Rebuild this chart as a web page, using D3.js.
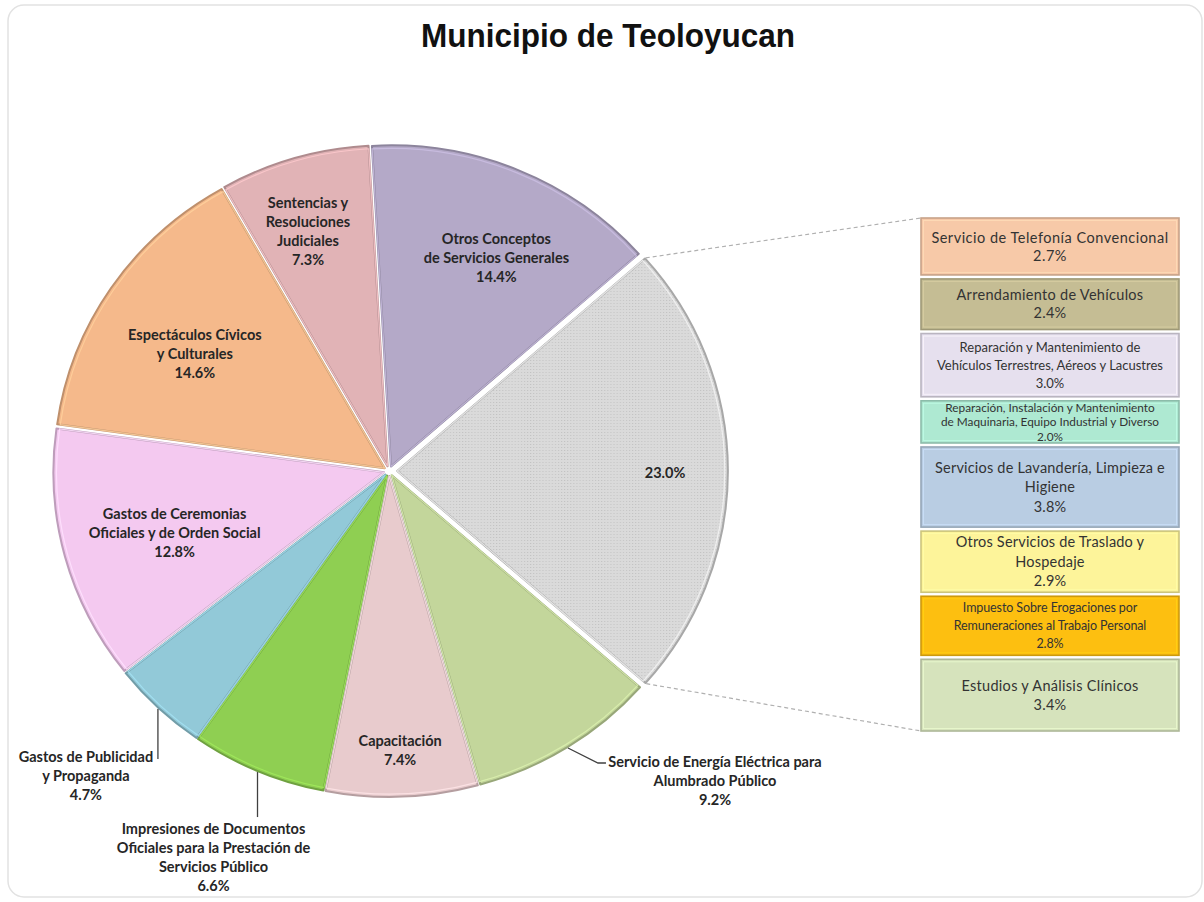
<!DOCTYPE html>
<html><head><meta charset="utf-8">
<script src="https://cdn.jsdelivr.net/npm/d3@7"></script>
<style>body{margin:0;background:#fff;} svg{display:block}</style>
</head><body><svg id="c" width="1204" height="902"></svg>
<script>
// ---------------- DATA ----------------
const title = "Municipio de Teoloyucan";
const categories = [
  "Otros Conceptos de Servicios Generales",
  "Otros (detalle)",
  "Servicio de Energía Eléctrica para Alumbrado Público",
  "Capacitación",
  "Impresiones de Documentos Oficiales para la Prestación de Servicios Público",
  "Gastos de Publicidad y Propaganda",
  "Gastos de Ceremonias Oficiales y de Orden Social",
  "Espectáculos Cívicos y Culturales",
  "Sentencias y Resoluciones Judiciales"
];
const values = [14.4, 23.0, 9.2, 7.4, 6.6, 4.7, 12.8, 14.6, 7.3];
const labelLines = [
  ["Otros Conceptos", "de Servicios  Generales"],
  [],
  ["Servicio de Energía  Eléctrica para", "Alumbrado Público"],
  ["Capacitación"],
  ["Impresiones de Documentos", "Oficiales  para la Prestación de", "Servicios  Público"],
  ["Gastos  de Publicidad", "y Propaganda"],
  ["Gastos  de Ceremonias", "Oficiales  y de Orden Social"],
  ["Espectáculos  Cívicos", "y Culturales"],
  ["Sentencias y", "Resoluciones", "Judiciales"]
];
const detailCategories = [
  "Servicio de Telefonía Convencional",
  "Arrendamiento de Vehículos",
  "Reparación y Mantenimiento de Vehículos Terrestres, Aéreos y Lacustres",
  "Reparación, Instalación y Mantenimiento de Maquinaria, Equipo Industrial y Diverso",
  "Servicios de Lavandería, Limpieza e Higiene",
  "Otros Servicios de Traslado y Hospedaje",
  "Impuesto Sobre Erogaciones por Remuneraciones al Trabajo Personal",
  "Estudios y Análisis Clínicos"
];
const detailValues = [2.7, 2.4, 3.0, 2.0, 3.8, 2.9, 2.8, 3.4];
const detailLines = [
  ["Servicio de Telefonía Convencional"],
  ["Arrendamiento  de  Vehículos"],
  ["Reparación y Mantenimiento de", "Vehículos Terrestres, Aéreos y Lacustres"],
  ["Reparación, Instalación y Mantenimiento", "de Maquinaria, Equipo Industrial y Diverso"],
  ["Servicios de Lavandería, Limpieza e", "Higiene"],
  ["Otros Servicios de Traslado y", "Hospedaje"],
  ["Impuesto Sobre Erogaciones por", "Remuneraciones al Trabajo Personal"],
  ["Estudios y Análisis Clínicos"]
];

// ---------------- STYLE / LAYOUT ----------------
const sliceColors = ["#b4a9c8","#d8d8d8","#c3d69b","#e8cbcd","#8fcf52","#92c9d8","#f4c9f0","#f5b98b","#e1b3b6"];
const detailColors = ["#f7c9a8","#c5bd94","#e6e0ee","#aee9d2","#b9cde3","#fdf49a","#fdbf10","#d6e3bc"];
const cx = 389, cy = 471, R = 321, sx = 1.03;
const startDeg = -3.3;
const explode = [5, 8, 5, 5, 5, 5, 5, 5, 5];
// inside label placement: radius fraction & angle nudge (deg); null = outside label
const labelR = [0.724, 0.81, null, 0.855, null, null, 0.661, 0.676, 0.769];
const labelNudge = [3.5, 0.6, 0, 0, 0, 0, -1.45, -2.3, -1.8];
const font = "Lato, 'Open Sans', sans-serif";
const textColor = "#262626";
const pieFs = 14.5;
// per-box label font size, letter spacing, line height
const boxFs = [14.5, 14.5, 13, 11.8, 14.5, 14.5, 12.5, 14.5];
const boxLs = [0.5, 0.3, 0, 0, 0.2, 0.2, -0.1, 0.3];
const boxLh = [18, 18, 18, 14.5, 19.5, 19.5, 18, 19];

const svg = d3.select("#c");
const defs = svg.append("defs");

// card
svg.append("rect").attr("x", 8).attr("y", 5).attr("width", 1194).attr("height", 892)
  .attr("rx", 16).attr("fill", "#fff").attr("stroke", "#e2e2e2").attr("stroke-width", 1.5);

// title
svg.append("text").attr("x", 608).attr("y", 47).attr("text-anchor", "middle")
  .attr("font-family", "'Liberation Sans', Arial, sans-serif").attr("font-weight", "bold")
  .attr("font-size", 33).attr("fill", "#111")
  .attr("textLength", 374).attr("lengthAdjust", "spacingAndGlyphs").text(title);

// dotted pattern for the detail slice
const pat = defs.append("pattern").attr("id", "dots").attr("patternUnits", "userSpaceOnUse")
  .attr("width", 3).attr("height", 3);
pat.append("rect").attr("width", 3).attr("height", 3).attr("fill", "#dadada");
pat.append("rect").attr("width", 1).attr("height", 1).attr("fill", "#c2c2c2");

const rad = d => d * Math.PI / 180;
const pie = d3.pie().sort(null).value(d => d)
  .startAngle(rad(startDeg)).endAngle(rad(startDeg) + 2 * Math.PI);
const arcs = pie(values);
const arc = d3.arc().innerRadius(0).outerRadius(R);

function pt(a, r, i) {
  const mid = (arcs[i].startAngle + arcs[i].endAngle) / 2;
  const ox = Math.sin(mid) * explode[i], oy = -Math.cos(mid) * explode[i];
  return [cx + sx * (Math.sin(a) * r + ox), cy + (-Math.cos(a) * r + oy)];
}
const shift = (d, i) => {
  const mid = (d.startAngle + d.endAngle) / 2;
  return `translate(${Math.sin(mid) * explode[i]},${-Math.cos(mid) * explode[i]})`;
};

const pieG = svg.append("g").attr("transform", `translate(${cx},${cy}) scale(${sx},1)`);
pieG.selectAll("path.slice").data(arcs).join("path").attr("class", "slice")
  .attr("transform", shift)
  .attr("d", arc)
  .attr("fill", (d, i) => i === 1 ? "url(#dots)" : sliceColors[i])
  .attr("stroke", (d, i) => d3.color(sliceColors[i]).darker(0.7))
  .attr("stroke-width", 2).attr("stroke-linejoin", "round");

const arcIn = d3.arc().innerRadius(0).outerRadius(R - 3);
pieG.selectAll("path.rim").data(arcs).join("path").attr("class", "rim")
  .attr("transform", shift)
  .attr("d", arcIn).attr("fill", "none")
  .attr("stroke", (d, i) => d3.color(sliceColors[i]).brighter(0.35))
  .attr("stroke-width", 1.2).attr("opacity", 0.8);

// inside labels
const lh = 19;
arcs.forEach((d, i) => {
  if (labelR[i] === null) return;
  const mid = (d.startAngle + d.endAngle) / 2 + rad(labelNudge[i]);
  const [x, y] = pt(mid, R * labelR[i], i);
  const lines = labelLines[i].concat([values[i].toFixed(1) + "%"]);
  const t = svg.append("text").attr("text-anchor", "middle").attr("font-family", font)
    .attr("font-weight", "bold").attr("font-size", pieFs).attr("fill", textColor);
  lines.forEach((s, k) => {
    t.append("tspan").attr("x", x).attr("y", y + (k - (lines.length - 1) / 2) * lh + 5).text(s);
  });
});

// outside labels with leader lines
function outsideLabel(i, leader, tx, ty) {
  const mid = (arcs[i].startAngle + arcs[i].endAngle) / 2;
  const [px, py] = pt(mid, R + 1, i);
  const pts = [[px, py]].concat(leader.map(([dx, dy]) => [px + dx, py + dy]));
  svg.append("path").attr("d", d3.line()(pts)).attr("fill", "none")
    .attr("stroke", "#404040").attr("stroke-width", 1.3);
  const lines = labelLines[i].concat([values[i].toFixed(1) + "%"]);
  const t = svg.append("text").attr("text-anchor", "middle").attr("font-family", font)
    .attr("font-weight", "bold").attr("font-size", pieFs).attr("fill", textColor);
  lines.forEach((s, k) => {
    t.append("tspan").attr("x", px + tx).attr("y", py + ty + k * lh + 5).text(s);
  });
}
outsideLabel(2, [[30, 15], [38, 15]], 147, 14);
outsideLabel(5, [[0, 50]], -72, 48);
outsideLabel(4, [[0, 45]], -44, 57);

// ---------------- detail stack ----------------
const bx = 921, bw = 258, stackTop = 218, stackBottom = 731, gap = 4;
const total = d3.sum(detailValues);
const hScale = d3.scaleLinear().domain([0, total])
  .range([0, (stackBottom - stackTop) - gap * (detailValues.length - 1)]);
let acc = 0;
const boxes = detailValues.map((v, i) => {
  const y = stackTop + hScale(acc) + i * gap;
  acc += v;
  return { y, h: hScale(v), v, i };
});

const g1 = arcs[1];
const pA = pt(g1.startAngle, R + 1, 1), pB = pt(g1.endAngle, R + 1, 1);
svg.append("line").attr("x1", pA[0]).attr("y1", pA[1]).attr("x2", bx).attr("y2", stackTop)
  .attr("stroke", "#b0b0b0").attr("stroke-width", 1.2).attr("stroke-dasharray", "4,3");
svg.append("line").attr("x1", pB[0]).attr("y1", pB[1]).attr("x2", bx).attr("y2", stackBottom)
  .attr("stroke", "#b0b0b0").attr("stroke-width", 1.2).attr("stroke-dasharray", "4,3");

const bg = svg.append("g");
boxes.forEach(b => {
  const c = detailColors[b.i];
  bg.append("rect").attr("x", bx).attr("y", b.y).attr("width", bw).attr("height", b.h)
    .attr("fill", c).attr("stroke", d3.color(c).darker(0.6)).attr("stroke-width", 1.6);
  bg.append("rect").attr("x", bx + 2.5).attr("y", b.y + 2.5).attr("width", bw - 5).attr("height", b.h - 5)
    .attr("fill", "none").attr("stroke", d3.color(c).brighter(0.3)).attr("stroke-width", 1).attr("opacity", 0.7);
  const fs = boxFs[b.i], blh = boxLh[b.i];
  const lines = detailLines[b.i].concat([b.v.toFixed(1) + "%"]);
  const t = bg.append("text").attr("text-anchor", "middle").attr("font-family", font)
    .attr("font-size", fs).attr("letter-spacing", boxLs[b.i]).attr("fill", "#333");
  const cyb = b.y + b.h / 2;
  lines.forEach((s, k) => {
    t.append("tspan").attr("x", bx + bw / 2)
      .attr("y", cyb + (k - (lines.length - 1) / 2) * blh + fs * 0.35).text(s);
  });
});
</script></body></html>
